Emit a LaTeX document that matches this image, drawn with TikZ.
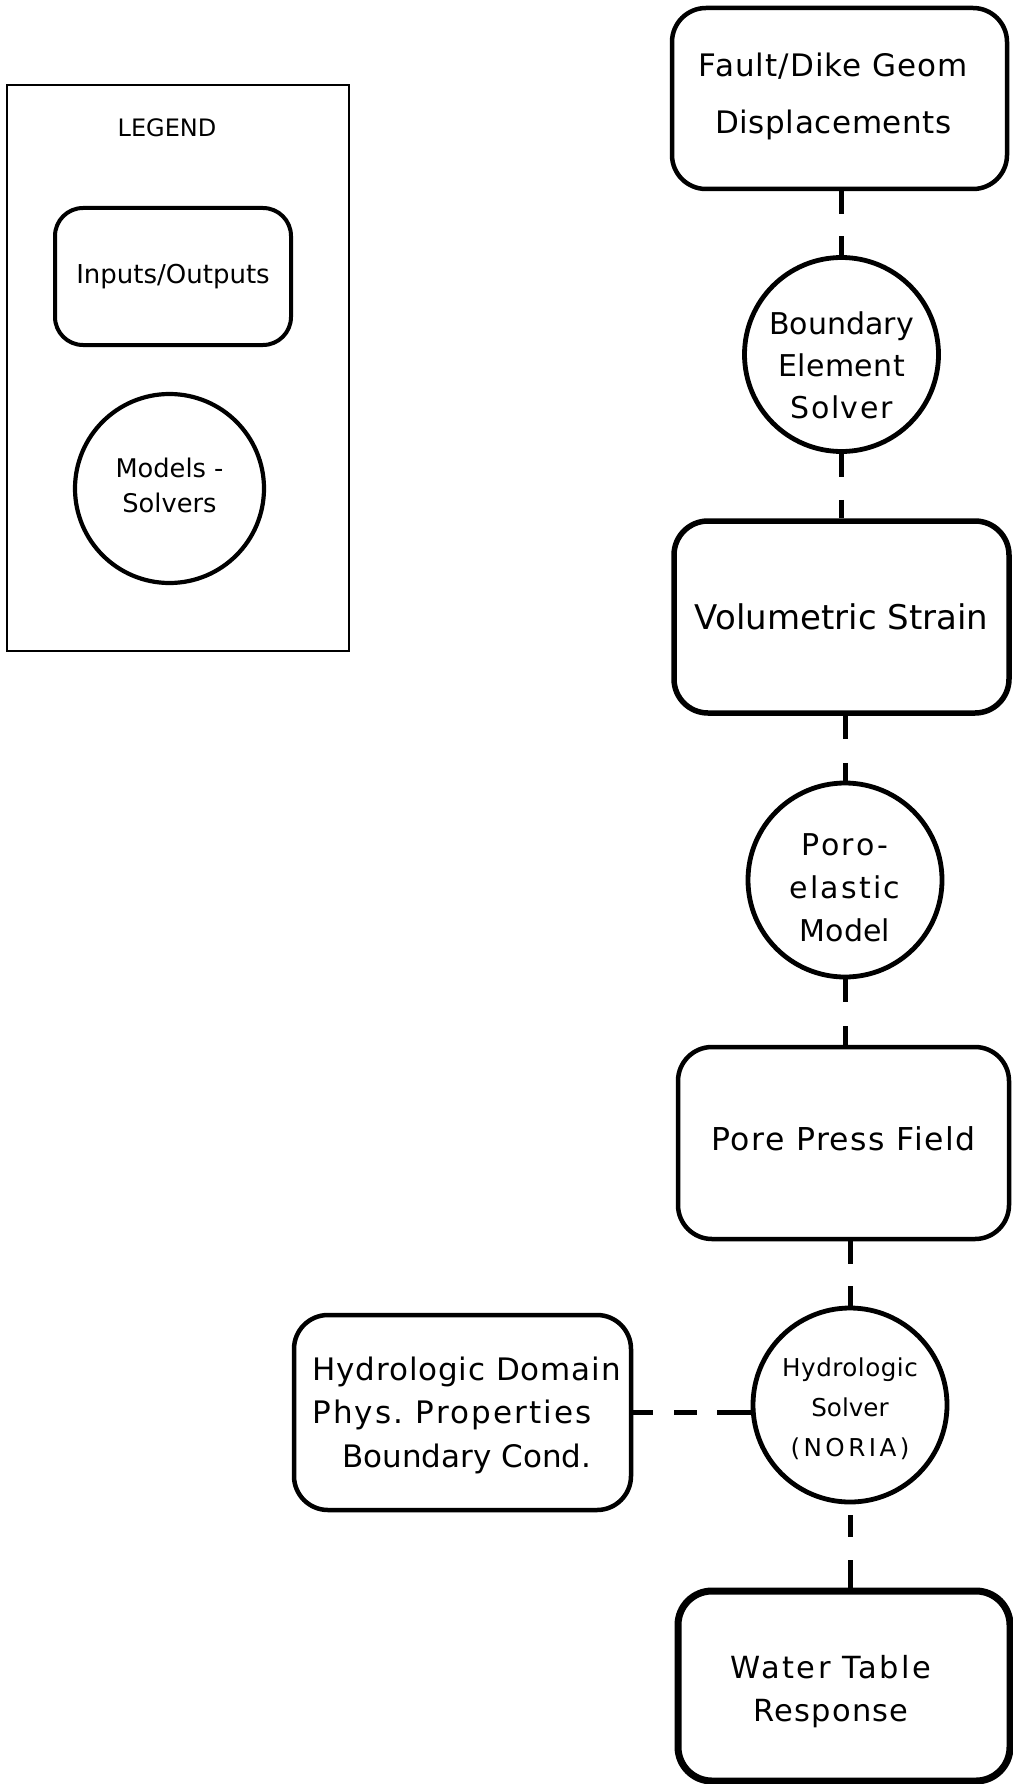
\documentclass[tikz,border=0pt]{standalone}
\usepackage{fontspec}
\setmainfont{DejaVu Sans}
\newcommand{\trk}[2]{{\addfontfeature{LetterSpace=#1}#2}}
\begin{document}
\begin{tikzpicture}[x=1pt,y=-1pt,
  box/.style={draw, line width=4.5pt, rounded corners=34pt, inner sep=0pt, align=center},
  solver/.style={draw, circle, line width=4.8pt, inner sep=0pt, minimum size=194pt},
  label text/.style={align=center, inner sep=0pt},
  link/.style={line width=5pt},
  fs/.style 2 args={font=\fontsize{#1pt}{#2pt}\selectfont}]
\useasboundingbox (0,0) rectangle (1012,1784);

% legend
\node[draw, line width=2.2pt, minimum width=342pt, minimum height=566pt] (legend) at (178,368) {};
\node[fs={24}{28}] (legendtitle) at (167,127.5) {LEGEND};
\node[box, line width=4pt, rounded corners=28pt, minimum width=236pt, minimum height=137pt, fs={26}{30}] (io) at (173,276.5) {Inputs/Outputs};
\node[solver, line width=4.2pt, minimum size=189pt] (ms) at (169.5,488.5) {};
\node[label text, fs={25.7}{35}] (mstext) at ([yshift=3.5pt]ms.center) {Models -\\Solvers};

% main column
\node[box, minimum width=335pt, minimum height=181pt] (fault) at (839.5,98.5) {};
\node[label text, fs={31}{57}] (faulttext) at ([xshift=-6pt, yshift=2pt]fault.center) {\trk{3.4}{Fault/Dike Geom}\\\trk{2}{Displacements}};
\node[solver] (bes) at (841.5,354.5) {};
\node[label text, fs={30}{42}] (bestext) at ([yshift=-11pt]bes.center) {Boundary\\\trk{1.5}{Element}\\\trk{5}{Solver}};
\node[box, line width=5.5pt, minimum width=335pt, minimum height=192pt, fs={34}{40}] (vol) at (841.5,617) {Volumetric Strain};
\node[solver] (poro) at (845,880) {};
\node[label text, fs={30}{43}] (porotext) at ([yshift=-7.5pt]poro.center) {\trk{8}{Poro-}\\\trk{7.5}{elastic}\\Model};
\node[box, minimum width=331pt, minimum height=192pt] (pore) at (843.5,1143) {};
\node[label text, fs={31.5}{38}] (poretext) at ([yshift=4.5pt]pore.center) {\trk{5}{Pore Press Field}};
\node[solver] (hydro) at (850,1405) {};
\node[label text, fs={24.6}{40}] (hydrotext) at ([yshift=-4pt]hydro.center) {\trk{2}{Hydrologic}\\Solver\\\trk{14}{(NORIA)}};
\node[box, minimum width=337pt, minimum height=195pt] (hdom) at (462.5,1412.5) {};
\node[label text, align=left, fs={31}{43.5}] (hdomtext) at ([xshift=4pt, yshift=-2.5pt]hdom.center) {\trk{2.8}{Hydrologic Domain}\\\trk{7}{Phys.\ Properties}\\\hspace*{30pt}Boundary Cond.};
\node[box, line width=7pt, minimum width=332pt, minimum height=190pt] (water) at (844,1686) {};
\node[label text, fs={30.5}{43}] (watertext) at ([yshift=-5.5pt, xshift=-13pt]water.center) {\trk{8}{Water Table}\\\trk{4}{Response}};

% connectors
\draw[link, dash pattern=on 23pt off 22pt] (bes.north |- fault.south) -- (bes.north);
\draw[link, dash pattern=on 23pt off 23pt] (bes.south) -- (bes.south |- vol.north);
\draw[link, dash pattern=on 23pt off 24pt] (poro.north |- vol.south) -- (poro.north);
\draw[link, dash pattern=on 23pt off 24pt] (poro.south) -- (poro.south |- pore.north);
\draw[link, dash pattern=on 23pt off 22pt] (hydro.north |- pore.south) -- (hydro.north);
\draw[link, dash pattern=on 28pt off 23pt on 22pt off 50pt] (hydro.south |- water.north) -- (hydro.south);
\draw[link, dash pattern=on 34pt off 20pt on 23pt off 21pt] (hydro.west |- hdom.east) -- (hdom.east);
\end{tikzpicture}
\end{document}
